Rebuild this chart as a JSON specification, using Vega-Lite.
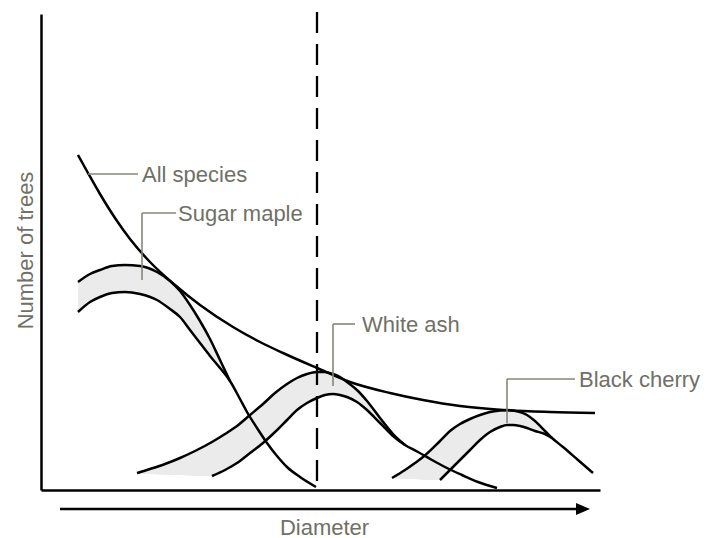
{
  "$schema": "https://vega.github.io/schema/vega-lite/v6.json",
  "width": 559,
  "height": 476,
  "autosize": {"type": "none"},
  "padding": {"left": 41, "top": 14, "right": 108, "bottom": 48},
  "background": "white",
  "config": {
    "view": {"stroke": null},
    "font": "Liberation Sans",
    "axis": {
      "labels": false, "ticks": false, "grid": false,
      "domain": true, "domainColor": "#000000", "domainWidth": 2.5,
      "titleFont": "Liberation Sans", "titleFontSize": 22, "titleFontWeight": "normal",
      "titleColor": "#707066"
    }
  },
  "datasets": {
    "curves": [
      {"c": "all", "d": 37, "t": 335}, {"c": "all", "d": 47, "t": 317}, {"c": "all", "d": 59, "t": 296}, {"c": "all", "d": 74, "t": 272},
      {"c": "all", "d": 89, "t": 251}, {"c": "all", "d": 109, "t": 228}, {"c": "all", "d": 134, "t": 205}, {"c": "all", "d": 159, "t": 185},
      {"c": "all", "d": 192, "t": 163}, {"c": "all", "d": 219, "t": 148}, {"c": "all", "d": 242, "t": 137}, {"c": "all", "d": 276, "t": 122},
      {"c": "all", "d": 309, "t": 108}, {"c": "all", "d": 349, "t": 97}, {"c": "all", "d": 382, "t": 90}, {"c": "all", "d": 419, "t": 84},
      {"c": "all", "d": 462, "t": 80}, {"c": "all", "d": 509, "t": 78}, {"c": "all", "d": 554, "t": 77},

      {"c": "sm_up", "d": 37, "t": 208}, {"c": "sm_up", "d": 49, "t": 216}, {"c": "sm_up", "d": 59, "t": 220}, {"c": "sm_up", "d": 71, "t": 224},
      {"c": "sm_up", "d": 84, "t": 225}, {"c": "sm_up", "d": 99, "t": 224}, {"c": "sm_up", "d": 116, "t": 218}, {"c": "sm_up", "d": 129, "t": 209},
      {"c": "sm_up", "d": 139, "t": 199}, {"c": "sm_up", "d": 149, "t": 185}, {"c": "sm_up", "d": 159, "t": 169}, {"c": "sm_up", "d": 169, "t": 151},
      {"c": "sm_up", "d": 179, "t": 130}, {"c": "sm_up", "d": 189, "t": 109},

      {"c": "sm_lo", "d": 37, "t": 178}, {"c": "sm_lo", "d": 49, "t": 188}, {"c": "sm_lo", "d": 59, "t": 193}, {"c": "sm_lo", "d": 71, "t": 197},
      {"c": "sm_lo", "d": 84, "t": 198}, {"c": "sm_lo", "d": 99, "t": 196}, {"c": "sm_lo", "d": 116, "t": 190}, {"c": "sm_lo", "d": 129, "t": 181},
      {"c": "sm_lo", "d": 139, "t": 173}, {"c": "sm_lo", "d": 149, "t": 160}, {"c": "sm_lo", "d": 159, "t": 147}, {"c": "sm_lo", "d": 169, "t": 134},
      {"c": "sm_lo", "d": 179, "t": 122}, {"c": "sm_lo", "d": 189, "t": 109}, {"c": "sm_lo", "d": 199, "t": 91}, {"c": "sm_lo", "d": 206, "t": 78},
      {"c": "sm_lo", "d": 216, "t": 62}, {"c": "sm_lo", "d": 226, "t": 47}, {"c": "sm_lo", "d": 236, "t": 34}, {"c": "sm_lo", "d": 246, "t": 23},
      {"c": "sm_lo", "d": 259, "t": 13}, {"c": "sm_lo", "d": 275, "t": 3},

      {"c": "wa_up", "d": 96, "t": 17}, {"c": "wa_up", "d": 109, "t": 21}, {"c": "wa_up", "d": 124, "t": 26}, {"c": "wa_up", "d": 139, "t": 32},
      {"c": "wa_up", "d": 154, "t": 39}, {"c": "wa_up", "d": 171, "t": 48}, {"c": "wa_up", "d": 184, "t": 56}, {"c": "wa_up", "d": 196, "t": 64},
      {"c": "wa_up", "d": 209, "t": 75}, {"c": "wa_up", "d": 222, "t": 86}, {"c": "wa_up", "d": 234, "t": 97}, {"c": "wa_up", "d": 246, "t": 106},
      {"c": "wa_up", "d": 256, "t": 112}, {"c": "wa_up", "d": 266, "t": 116}, {"c": "wa_up", "d": 276, "t": 118}, {"c": "wa_up", "d": 284, "t": 118},
      {"c": "wa_up", "d": 292, "t": 116}, {"c": "wa_up", "d": 299, "t": 113}, {"c": "wa_up", "d": 306, "t": 108}, {"c": "wa_up", "d": 316, "t": 100},
      {"c": "wa_up", "d": 326, "t": 89}, {"c": "wa_up", "d": 339, "t": 72}, {"c": "wa_up", "d": 352, "t": 56}, {"c": "wa_up", "d": 364, "t": 45},

      {"c": "wa_lo", "d": 171, "t": 14}, {"c": "wa_lo", "d": 184, "t": 20}, {"c": "wa_lo", "d": 196, "t": 27}, {"c": "wa_lo", "d": 209, "t": 37},
      {"c": "wa_lo", "d": 222, "t": 47}, {"c": "wa_lo", "d": 234, "t": 58}, {"c": "wa_lo", "d": 246, "t": 70}, {"c": "wa_lo", "d": 256, "t": 80},
      {"c": "wa_lo", "d": 266, "t": 87}, {"c": "wa_lo", "d": 276, "t": 92}, {"c": "wa_lo", "d": 284, "t": 95}, {"c": "wa_lo", "d": 292, "t": 96},
      {"c": "wa_lo", "d": 299, "t": 95}, {"c": "wa_lo", "d": 306, "t": 93}, {"c": "wa_lo", "d": 316, "t": 88}, {"c": "wa_lo", "d": 326, "t": 80},
      {"c": "wa_lo", "d": 339, "t": 67}, {"c": "wa_lo", "d": 352, "t": 54}, {"c": "wa_lo", "d": 364, "t": 45}, {"c": "wa_lo", "d": 377, "t": 38},
      {"c": "wa_lo", "d": 391, "t": 30}, {"c": "wa_lo", "d": 406, "t": 22}, {"c": "wa_lo", "d": 421, "t": 15}, {"c": "wa_lo", "d": 437, "t": 8},
      {"c": "wa_lo", "d": 456, "t": 2},

      {"c": "bc_up", "d": 351, "t": 12}, {"c": "bc_up", "d": 364, "t": 20}, {"c": "bc_up", "d": 374, "t": 27}, {"c": "bc_up", "d": 382, "t": 33},
      {"c": "bc_up", "d": 399, "t": 49}, {"c": "bc_up", "d": 409, "t": 59}, {"c": "bc_up", "d": 419, "t": 66}, {"c": "bc_up", "d": 429, "t": 71},
      {"c": "bc_up", "d": 439, "t": 75}, {"c": "bc_up", "d": 449, "t": 78}, {"c": "bc_up", "d": 459, "t": 79.5}, {"c": "bc_up", "d": 466, "t": 80},
      {"c": "bc_up", "d": 472, "t": 79.5}, {"c": "bc_up", "d": 479, "t": 78}, {"c": "bc_up", "d": 486, "t": 75}, {"c": "bc_up", "d": 494, "t": 69},
      {"c": "bc_up", "d": 504, "t": 59}, {"c": "bc_up", "d": 511, "t": 52}, {"c": "bc_up", "d": 522, "t": 43}, {"c": "bc_up", "d": 537, "t": 30},
      {"c": "bc_up", "d": 552, "t": 17},

      {"c": "bc_lo", "d": 399, "t": 10}, {"c": "bc_lo", "d": 409, "t": 20}, {"c": "bc_lo", "d": 419, "t": 30}, {"c": "bc_lo", "d": 429, "t": 40},
      {"c": "bc_lo", "d": 439, "t": 50}, {"c": "bc_lo", "d": 449, "t": 58}, {"c": "bc_lo", "d": 459, "t": 63}, {"c": "bc_lo", "d": 466, "t": 65},
      {"c": "bc_lo", "d": 472, "t": 65}, {"c": "bc_lo", "d": 479, "t": 64}, {"c": "bc_lo", "d": 486, "t": 62}, {"c": "bc_lo", "d": 494, "t": 59},
      {"c": "bc_lo", "d": 504, "t": 56}, {"c": "bc_lo", "d": 511, "t": 52}
    ],
    "bands": [
      {"sp": "sm", "d": 37, "t": 208, "t2": 178}, {"sp": "sm", "d": 49, "t": 216, "t2": 188}, {"sp": "sm", "d": 59, "t": 220, "t2": 193},
      {"sp": "sm", "d": 71, "t": 224, "t2": 197}, {"sp": "sm", "d": 84, "t": 225, "t2": 198}, {"sp": "sm", "d": 99, "t": 224, "t2": 196},
      {"sp": "sm", "d": 116, "t": 218, "t2": 190}, {"sp": "sm", "d": 129, "t": 209, "t2": 181}, {"sp": "sm", "d": 139, "t": 199, "t2": 173},
      {"sp": "sm", "d": 149, "t": 185, "t2": 160}, {"sp": "sm", "d": 159, "t": 169, "t2": 147}, {"sp": "sm", "d": 169, "t": 151, "t2": 134},
      {"sp": "sm", "d": 179, "t": 130, "t2": 122}, {"sp": "sm", "d": 189, "t": 109, "t2": 109},

      {"sp": "wa", "d": 96, "t": 17, "t2": 16}, {"sp": "wa", "d": 109, "t": 21, "t2": 16}, {"sp": "wa", "d": 124, "t": 26, "t2": 15},
      {"sp": "wa", "d": 139, "t": 32, "t2": 15}, {"sp": "wa", "d": 154, "t": 39, "t2": 14}, {"sp": "wa", "d": 171, "t": 48, "t2": 14},
      {"sp": "wa", "d": 184, "t": 56, "t2": 20}, {"sp": "wa", "d": 196, "t": 64, "t2": 27}, {"sp": "wa", "d": 209, "t": 75, "t2": 37},
      {"sp": "wa", "d": 222, "t": 86, "t2": 47}, {"sp": "wa", "d": 234, "t": 97, "t2": 58}, {"sp": "wa", "d": 246, "t": 106, "t2": 70},
      {"sp": "wa", "d": 256, "t": 112, "t2": 80}, {"sp": "wa", "d": 266, "t": 116, "t2": 87}, {"sp": "wa", "d": 276, "t": 118, "t2": 92},
      {"sp": "wa", "d": 284, "t": 118, "t2": 95}, {"sp": "wa", "d": 292, "t": 116, "t2": 96}, {"sp": "wa", "d": 299, "t": 113, "t2": 95},
      {"sp": "wa", "d": 306, "t": 108, "t2": 93}, {"sp": "wa", "d": 316, "t": 100, "t2": 88}, {"sp": "wa", "d": 326, "t": 89, "t2": 80},
      {"sp": "wa", "d": 339, "t": 72, "t2": 67}, {"sp": "wa", "d": 352, "t": 56, "t2": 54}, {"sp": "wa", "d": 364, "t": 45, "t2": 45},

      {"sp": "bc", "d": 351, "t": 12, "t2": 12}, {"sp": "bc", "d": 364, "t": 20, "t2": 11}, {"sp": "bc", "d": 374, "t": 27, "t2": 11},
      {"sp": "bc", "d": 382, "t": 33, "t2": 10}, {"sp": "bc", "d": 399, "t": 49, "t2": 10}, {"sp": "bc", "d": 409, "t": 59, "t2": 20},
      {"sp": "bc", "d": 419, "t": 66, "t2": 30}, {"sp": "bc", "d": 429, "t": 71, "t2": 40}, {"sp": "bc", "d": 439, "t": 75, "t2": 50},
      {"sp": "bc", "d": 449, "t": 78, "t2": 58}, {"sp": "bc", "d": 459, "t": 79.5, "t2": 63}, {"sp": "bc", "d": 466, "t": 80, "t2": 65},
      {"sp": "bc", "d": 472, "t": 79.5, "t2": 65}, {"sp": "bc", "d": 479, "t": 78, "t2": 64}, {"sp": "bc", "d": 486, "t": 75, "t2": 62},
      {"sp": "bc", "d": 494, "t": 69, "t2": 59}, {"sp": "bc", "d": 504, "t": 59, "t2": 56}, {"sp": "bc", "d": 511, "t": 52, "t2": 52}
    ],
    "leaders": [
      {"d": 47, "d2": 97, "t": 316, "t2": 316},
      {"d": 101, "d2": 135, "t": 277, "t2": 277},
      {"d": 101, "d2": 101, "t": 277, "t2": 210},
      {"d": 292, "d2": 314, "t": 166, "t2": 166},
      {"d": 292, "d2": 292, "t": 166, "t2": 104},
      {"d": 466, "d2": 534, "t": 111, "t2": 111},
      {"d": 466, "d2": 466, "t": 111, "t2": 67}
    ],
    "labels": [
      {"label": "All species", "d": 101, "t": 308},
      {"label": "Sugar maple", "d": 137, "t": 269},
      {"label": "White ash", "d": 321, "t": 158},
      {"label": "Black cherry", "d": 538, "t": 103}
    ],
    "dash": [{"d": 276, "t": 478, "t2": 3}],
    "arrow": [{"d": 19, "d2": 537, "t": -19}],
    "head": [{"d": 542, "t": -19}]
  },
  "encoding": {
    "x": {"field": "d", "type": "quantitative", "scale": {"domain": [0, 559], "nice": false, "zero": false},
          "axis": {"title": "Diameter", "titleX": 283, "titleY": 44, "titleAlign": "center", "titleBaseline": "alphabetic"}},
    "y": {"field": "t", "type": "quantitative", "scale": {"domain": [0, 476], "nice": false, "zero": false},
          "axis": {"title": "Number of trees", "titleX": -9, "titleY": 236, "titleAngle": 270, "titleAlign": "center", "titleBaseline": "alphabetic"}}
  },
  "layer": [
    {
      "data": {"name": "bands"},
      "mark": {"type": "area", "interpolate": "monotone", "color": "#ebebeb"},
      "encoding": {"y2": {"field": "t2"}, "detail": {"field": "sp"}}
    },
    {
      "data": {"name": "curves"},
      "mark": {"type": "line", "interpolate": "monotone", "color": "#000000", "strokeWidth": 2.5},
      "encoding": {"detail": {"field": "c"}}
    },
    {
      "data": {"name": "dash"},
      "mark": {"type": "rule", "color": "#000000", "strokeWidth": 2.3, "strokeDash": [21, 11]},
      "encoding": {"y2": {"field": "t2"}}
    },
    {
      "data": {"name": "leaders"},
      "mark": {"type": "rule", "color": "#86867a", "strokeWidth": 1.6},
      "encoding": {"x2": {"field": "d2"}, "y2": {"field": "t2"}}
    },
    {
      "data": {"name": "labels"},
      "mark": {"type": "text", "align": "left", "baseline": "alphabetic", "fontSize": 22, "font": "Liberation Sans", "color": "#707066"},
      "encoding": {"text": {"field": "label"}}
    },
    {
      "data": {"name": "arrow"},
      "mark": {"type": "rule", "color": "#000000", "strokeWidth": 2.5},
      "encoding": {"x2": {"field": "d2"}}
    },
    {
      "data": {"name": "head"},
      "mark": {"type": "point", "shape": "M -1 -0.85 L 1 0 L -1 0.85 Z", "filled": true, "color": "#000000", "opacity": 1, "size": 196, "strokeWidth": 0}
    }
  ]
}
